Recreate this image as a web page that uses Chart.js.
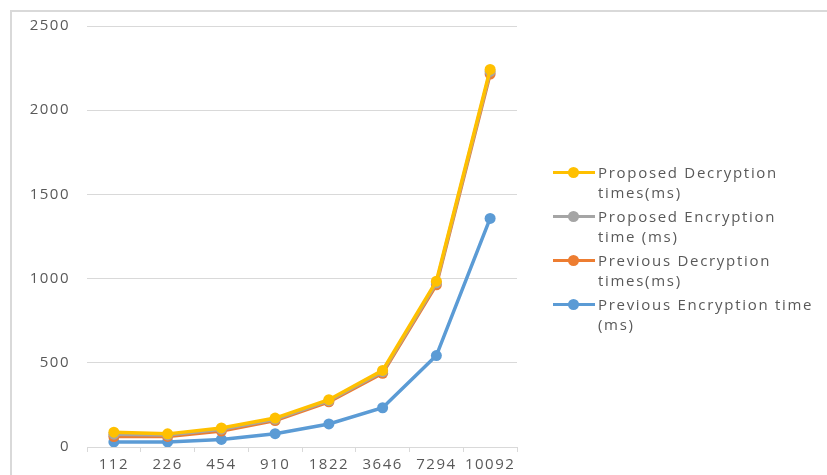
<!DOCTYPE html>
<html>
<head>
<meta charset="utf-8">
<title>Encryption / Decryption times</title>
<style>
  html, body { margin: 0; padding: 0; background: #fff; }
  #frame {
    position: absolute; left: 10px; top: 10px; width: 817px; height: 465px;
    border-top: 2px solid #d9d9d9; border-left: 2px solid #d9d9d9;
  }
  #wrap { position: absolute; left: 0; top: 0; width: 827px; height: 475px; }
  #legend {
    position: absolute; left: 553px; top: 162px; width: 272px;
    font-family: 'Open Sans', sans-serif; font-size: 15px; letter-spacing: 1.7px;
    color: #595959; line-height: 20px;
  }
  .item { position: relative; padding-left: 45px; margin-bottom: 4px; }
  .mk { position: absolute; left: 0; top: 9px; width: 42px; height: 3px; }
  .mk i { position: absolute; left: 15px; top: -4px; width: 11px; height: 11px; border-radius: 50%; }
</style>
</head>
<body>
<div id="frame"></div>
<div id="wrap"><canvas id="myChart"></canvas></div>
<div id="legend"></div>
<script src="https://cdn.jsdelivr.net/npm/chart.js"></script>
<script>
// data
var sizes = ['112', '226', '454', '910', '1822', '3646', '7294', '10092'];
var proposedDec = [88, 78, 113, 172, 281, 455, 985, 2242];
var proposedEnc = [76, 72, 106, 165, 275, 447, 975, 2230];
var previousDec = [62, 63, 95, 157, 268, 438, 963, 2215];
var previousEnc = [30, 30, 45, 79, 137, 233, 543, 1357];
var yTicks = [0, 500, 1000, 1500, 2000, 2500];

var seriesNames = ['Proposed Decryption times(ms)', 'Proposed Encryption time (ms)',
                   'Previous Decryption times(ms)', 'Previous Encryption time (ms)'];
var legendLines = [['Proposed Decryption', 'times(ms)'], ['Proposed Encryption', 'time (ms)'],
                   ['Previous Decryption', 'times(ms)'], ['Previous Encryption time', '(ms)']];
var colors = ['#FFC000', '#A5A5A5', '#ED7D31', '#5B9BD5'];

var spacing = {
  id: 'spacing',
  beforeLayout: function(chart) { chart.ctx.letterSpacing = '1.5px'; },
  beforeDraw: function(chart) { chart.ctx.letterSpacing = '1.5px'; }
};

var allData = [proposedDec, proposedEnc, previousDec, previousEnc];
var datasets = allData.map(function(d, i) {
  return {
    label: seriesNames[i],
    data: d,
    borderColor: colors[i],
    backgroundColor: colors[i],
    borderWidth: 3.5,
    pointRadius: 5.5,
    pointBorderWidth: 0,
    tension: 0
  };
});

var ctx = document.getElementById('myChart').getContext('2d');
var chart = new Chart(ctx, {
  type: 'line',
  data: { labels: sizes, datasets: datasets },
  plugins: [spacing],
  options: {
    responsive: true,
    maintainAspectRatio: false,
    animation: false,
    layout: { padding: { top: 18, right: 310, bottom: 0, left: 0 } },
    plugins: {
      tooltip: { enabled: false },
      legend: { display: false }
    },
    scales: {
      x: {
        offset: true,
        grid: { display: true, drawOnChartArea: false, offset: true, tickLength: 5, color: '#d9d9d9' },
        border: { display: true, color: '#d9d9d9' },
        ticks: { color: '#595959', padding: 4, maxRotation: 0, autoSkip: false,
                 font: { family: 'Open Sans', size: 15 } },
        afterFit: function(s) { s.height = 28; }
      },
      y: {
        min: 0, max: 2500,
        afterBuildTicks: function(s) { s.ticks = yTicks.map(function(v) { return { value: v }; }); },
        grid: { color: '#d9d9d9', drawTicks: false },
        border: { display: false },
        ticks: { color: '#595959', padding: 17, font: { family: 'Open Sans', size: 15 },
                 callback: function(v) { return String(v); } },
        afterFit: function(s) { s.width = 87; }
      }
    }
  }
});

// html legend built from the chart's datasets
var leg = document.getElementById('legend');
chart.data.datasets.forEach(function(ds, i) {
  var it = document.createElement('div');
  it.className = 'item';
  it.innerHTML = '<span class="mk" style="background:' + ds.borderColor + '"><i style="background:' +
    ds.borderColor + '"></i></span>' + legendLines[i].join('<br>');
  leg.appendChild(it);
});
</script>
</body>
</html>
